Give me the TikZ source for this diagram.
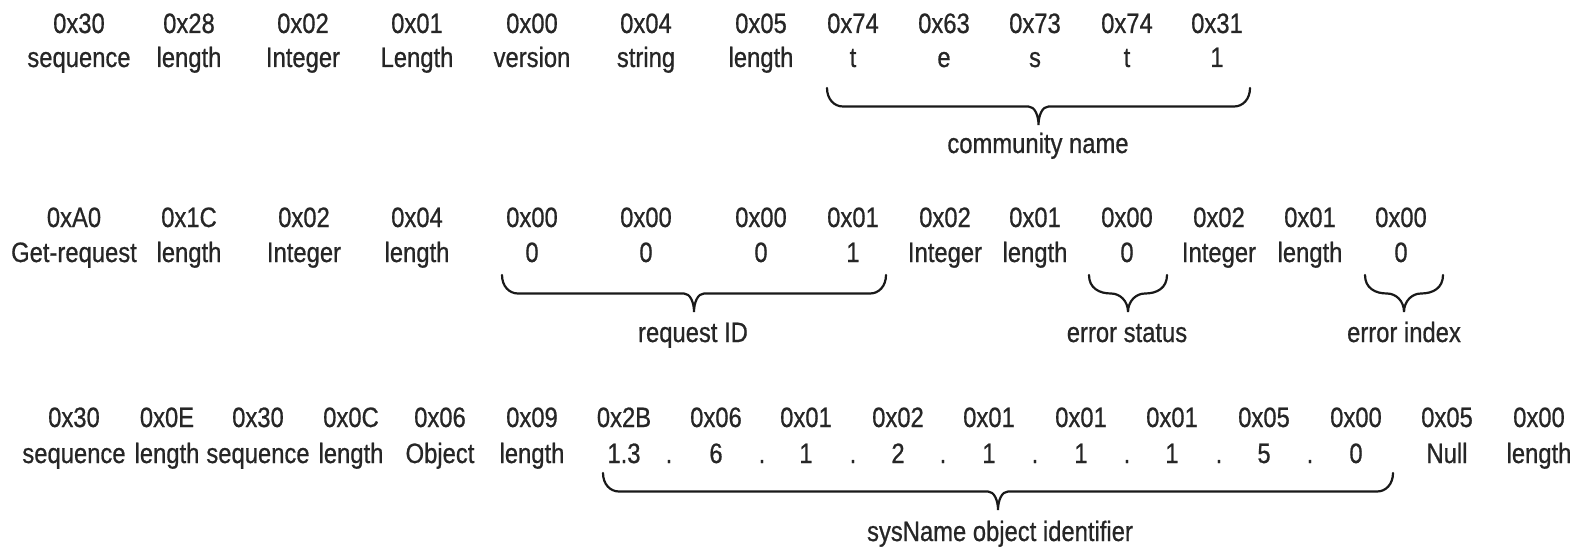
\documentclass[tikz,border=0pt]{standalone}
\usepackage{fontspec}
\setmainfont{Liberation Sans}[FakeStretch=0.85,FakeBold=0.7]
\usetikzlibrary{calc}
\definecolor{ink}{HTML}{262626}
\newcommand\fieldfont{\fontsize{28}{34}\selectfont}

\begin{document}
\begin{tikzpicture}[x=1pt,y=-1pt,
	field/.style={font=\fieldfont,text=ink,inner sep=0pt,anchor=base},
	brc/.style={draw=black!90,line width=2.2pt,line cap=round},
	bigbrace/.style={to path={
		.. controls +(0,11) and +(-9,0) .. ($(\tikztostart)+(16,18.5)$)
		-- ($(\tikztostart)!.5!(\tikztotarget)+(-10,18.5)$)
		.. controls +(6,0) and +(0,-10) .. ($(\tikztostart)!.5!(\tikztotarget)+(0,37)$)
		.. controls +(0,-10) and +(-6,0) .. ($(\tikztostart)!.5!(\tikztotarget)+(10,18.5)$)
		-- ($(\tikztotarget)+(-16,18.5)$)
		.. controls +(9,0) and +(0,11) .. (\tikztotarget)}},
	smallbrace/.style={to path={
		.. controls +(0,13) and +(-12,0) .. ($(\tikztostart)+(22,18.5)$)
		.. controls +(9,0) and +(0,-11) .. ($(\tikztostart)!.5!(\tikztotarget)+(0,37)$)
		.. controls +(0,-11) and +(-9,0) .. ($(\tikztotarget)+(-22,18.5)$)
		.. controls +(12,0) and +(0,13) .. (\tikztotarget)}}]
	\useasboundingbox (0,0) rectangle (1581,559);

	% community string
	\foreach \x/\h/\l [count=\i] in {79/0x30/sequence,189/0x28/length,303/0x02/Integer,
		417/0x01/Length,532/0x00/version,646/0x04/string,761/0x05/length,853/0x74/t,
		944/0x63/e,1035/0x73/s,1127/0x74/t,1217/0x31/1}
	{
		\node (a\i) at (\x,33) [field] {\h};
		\node (a\i t) at (\x,67) [field] {\l};
	}
	\coordinate (aL) at (827,88);
	\coordinate (aR) at (1250,88);
	\draw[brc] (aL) to[bigbrace] (aR);
	\node (comm) at (1038,153) [field] {community name};

	% get-request header
	\foreach \x/\h/\l [count=\i] in {74/0xA0/Get-request,189/0x1C/length,304/0x02/Integer,
		417/0x04/length,532/0x00/0,646/0x00/0,761/0x00/0,853/0x01/1,945/0x02/Integer,
		1035/0x01/length,1127/0x00/0,1219/0x02/Integer,1310/0x01/length,1401/0x00/0}
	{
		\node (b\i) at (\x,227) [field] {\h};
		\node (b\i t) at (\x,262) [field] {\l};
	}
	\coordinate (rqL) at (502,275);
	\coordinate (rqR) at (886,275);
	\coordinate (esL) at (1089,275);
	\coordinate (esR) at (1167,275);
	\coordinate (eiL) at (1365,275);
	\coordinate (eiR) at (1443,275);
	\draw[brc] (rqL) to[bigbrace] (rqR);
	\draw[brc] (esL) to[smallbrace] (esR);
	\draw[brc] (eiL) to[smallbrace] (eiR);
	\node (reqid) at (693,342) [field] {request ID};
	\node (errst) at (1127,342) [field] {error status};
	\node (errix) at (1404,342) [field] {error index};

	% variable binding
	\foreach \x/\h/\l [count=\i] in {74/0x30/sequence,167/0x0E/length,258/0x30/sequence,
		351/0x0C/length,440/0x06/Object,532/0x09/length,624/0x2B/1.3,716/0x06/6,
		806/0x01/1,898/0x02/2,989/0x01/1,1081/0x01/1,1172/0x01/1,1264/0x05/5,
		1356/0x00/0,1447/0x05/Null,1539/0x00/length}
	{
		\node (c\i) at (\x,427) [field] {\h};
		\node (c\i t) at (\x,463) [field] {\l};
	}
	\foreach \x [count=\i] in {669,762,853,943,1035,1127,1219,1310}
		\node (dot\i) at (\x,463) [field] {.};
	\coordinate (oidL) at (603,473);
	\coordinate (oidR) at (1393,473);
	\draw[brc] (oidL) to[bigbrace] (oidR);
	\node (oid) at (1000,541) [field] {sysName object identifier};
\end{tikzpicture}
\end{document}
